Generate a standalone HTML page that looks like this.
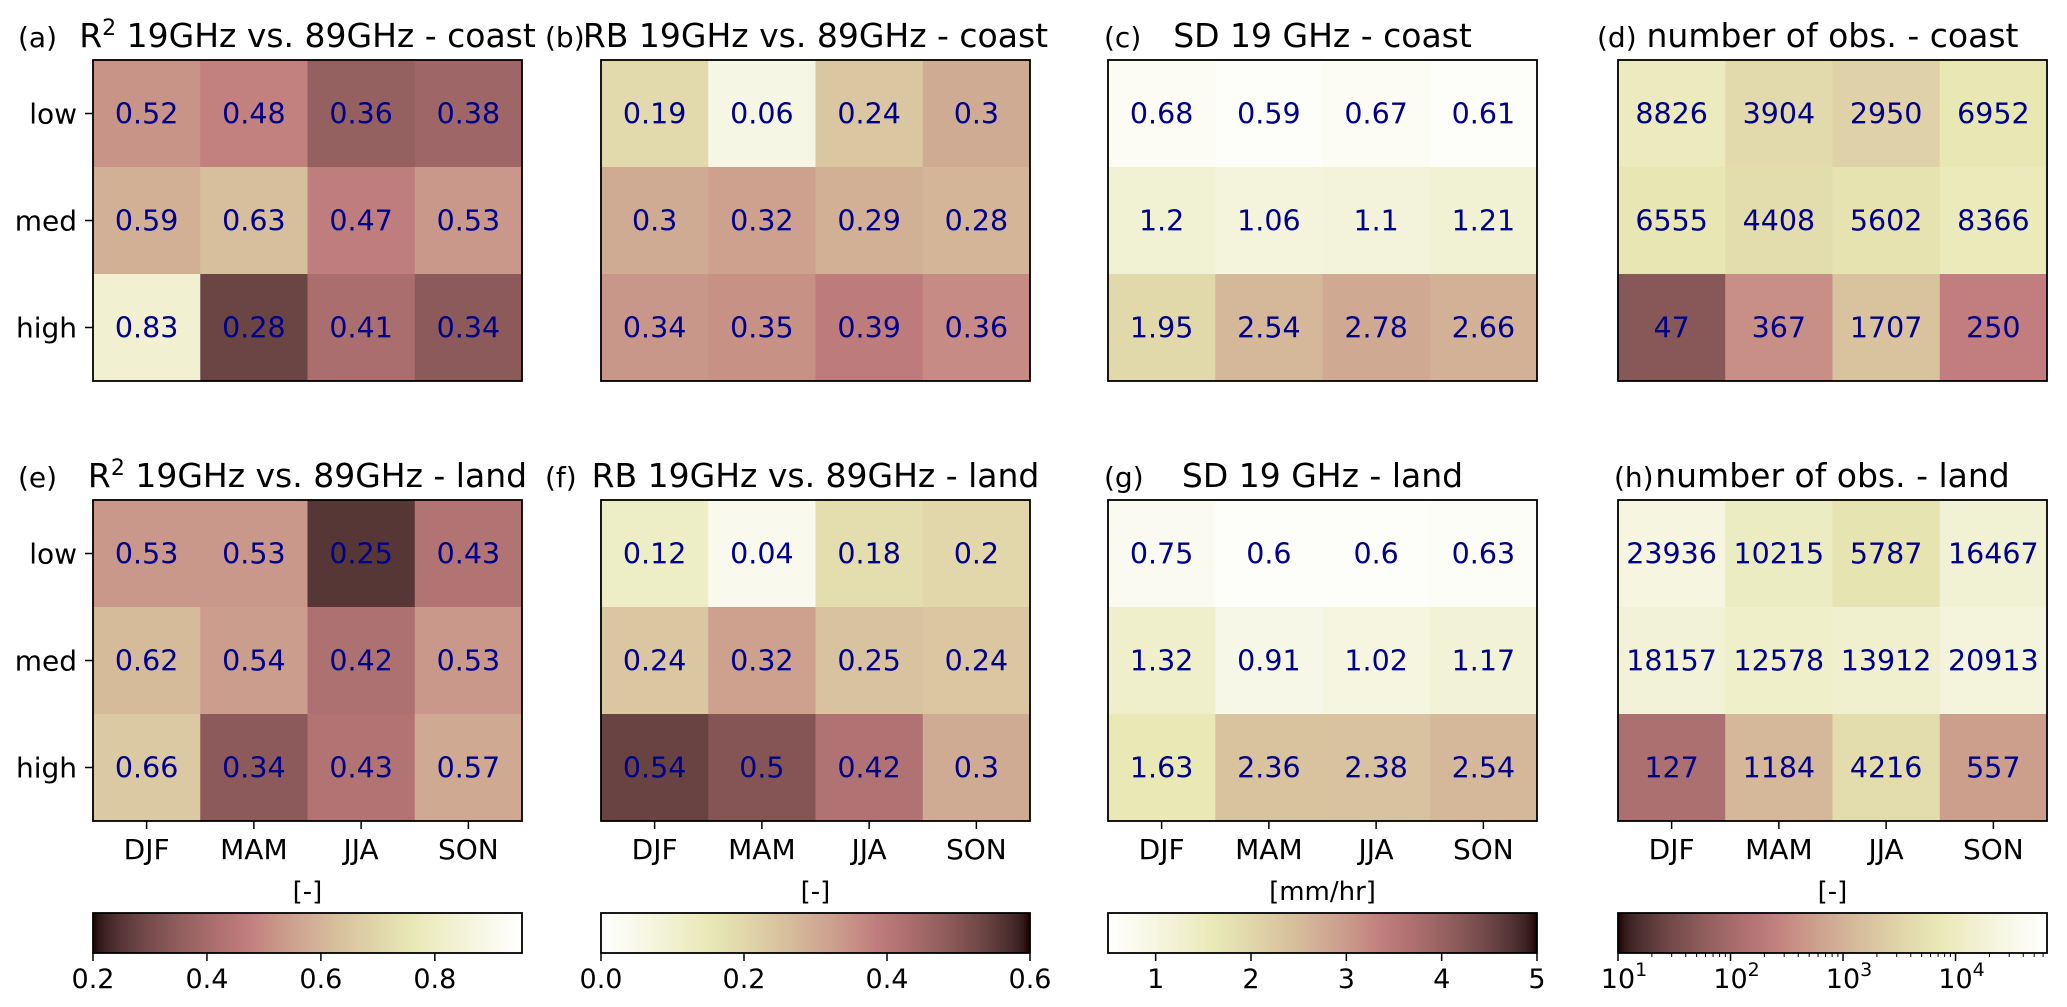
<!DOCTYPE html>
<html><head><meta charset="utf-8">
<style>
html,body{margin:0;padding:0;background:#fff;}
svg{display:block;font-family:"DejaVu Sans","Liberation Sans",sans-serif;}
</style></head>
<body>
<svg id="fig" width="2067" height="1007" viewBox="0 0 2067 1007" xmlns="http://www.w3.org/2000/svg"></svg>
<script>
// ---- data ----
const seasons = ["DJF","MAM","JJA","SON"];
const levels = ["low","med","high"];
const r2Coast = [[0.52,0.48,0.36,0.38],[0.59,0.63,0.47,0.53],[0.83,0.28,0.41,0.34]];
const rbCoast = [[0.19,0.06,0.24,0.3],[0.3,0.32,0.29,0.28],[0.34,0.35,0.39,0.36]];
const sdCoast = [[0.68,0.59,0.67,0.61],[1.2,1.06,1.1,1.21],[1.95,2.54,2.78,2.66]];
const nCoast = [[8826,3904,2950,6952],[6555,4408,5602,8366],[47,367,1707,250]];
const r2Land = [[0.53,0.53,0.25,0.43],[0.62,0.54,0.42,0.53],[0.66,0.34,0.43,0.57]];
const rbLand = [[0.12,0.04,0.18,0.2],[0.24,0.32,0.25,0.24],[0.54,0.5,0.42,0.3]];
const sdLand = [[0.75,0.6,0.6,0.63],[1.32,0.91,1.02,1.17],[1.63,2.36,2.38,2.54]];
const nLand = [[23936,10215,5787,16467],[18157,12578,13912,20913],[127,1184,4216,557]];
const r2Ticks = [0.2,0.4,0.6,0.8];
const rbTicks = [0.0,0.2,0.4,0.6];
const sdTicks = [1,2,3,4,5];
const nTicks = [1,2,3,4]; // log10 exponents
const r2Range = [0.2,0.953];
const rbRange = [0,0.6];
const sdRange = [0.5,5];
const nRange = [10,65000];

const NS="http://www.w3.org/2000/svg";
const svg=document.getElementById('fig');
function mk(tag,attrs,parent){const e=document.createElementNS(NS,tag);for(const k in attrs)e.setAttribute(k,attrs[k]);(parent||svg).appendChild(e);return e;}

function pink(t){
  t=Math.max(0,Math.min(1,t));
  const i=1+t*63;
  const cl=v=>Math.max(0,Math.min(1,v));
  const g=(i-1)/63;
  const hr=cl(i/24),hg=cl((i-24)/24),hb=cl((i-48)/16);
  const f=h=>Math.round(255*Math.sqrt((2*g+h)/3));
  return `rgb(${f(hr)},${f(hg)},${f(hb)})`;
}

const colX=[93,601,1108,1618];
const W=429;
const rowY=[60,500];
const H=321;
const cbY=913, cbH=40;

const columns=[
 {top:r2Coast,bot:r2Land,norm:v=>(v-r2Range[0])/(r2Range[1]-r2Range[0]),rev:false,fmt:v=>String(v),
  tTop:"R² 19GHz vs. 89GHz - coast",tBot:"R² 19GHz vs. 89GHz - land",lt:["(a)","(e)"],lx:[18,18],unit:"[-]",name:"r2"},
 {top:rbCoast,bot:rbLand,norm:v=>(v-rbRange[0])/(rbRange[1]-rbRange[0]),rev:true,fmt:v=>String(v),
  tTop:"RB 19GHz vs. 89GHz - coast",tBot:"RB 19GHz vs. 89GHz - land",lt:["(b)","(f)"],lx:[545,545],unit:"[-]",name:"rb"},
 {top:sdCoast,bot:sdLand,norm:v=>(v-sdRange[0])/(sdRange[1]-sdRange[0]),rev:true,fmt:v=>String(v),
  tTop:"SD 19 GHz - coast",tBot:"SD 19 GHz - land",lt:["(c)","(g)"],lx:[1104,1104],unit:"[mm/hr]",name:"sd"},
 {top:nCoast,bot:nLand,norm:v=>(Math.log10(v)-Math.log10(nRange[0]))/(Math.log10(nRange[1])-Math.log10(nRange[0])),rev:false,fmt:v=>String(v),
  tTop:"number of obs. - coast",tBot:"number of obs. - land",lt:["(d)","(h)"],lx:[1597,1614],unit:"[-]",name:"nobs"}
];

const defs=mk('defs',{});
columns.forEach((c,ci)=>{
  const x0=colX[ci];
  [c.top,c.bot].forEach((data,ri)=>{
    const y0=rowY[ri];
    const g=mk('g',{});
    
    
    const cw=W/seasons.length, ch=H/levels.length;
    data.forEach((row,r)=>row.forEach((v,k)=>{
      let t=c.norm(v); if(c.rev)t=1-t;
      const cell=mk('rect',{x:x0+k*cw,y:y0+r*ch,width:cw+0.5,height:ch+0.5,fill:pink(t)},g);
      
      
      const tx=mk('text',{x:x0+k*cw+cw/2,y:y0+r*ch+ch/2+10,'font-size':28.5,fill:'#00008b','text-anchor':'middle'},g);
      tx.textContent=c.fmt(v);
      
      
    }));
    const fr=mk('rect',{x:x0,y:y0,width:W,height:H,fill:'none',stroke:'#000','stroke-width':1.8},g);
    
    
    // title
    const title=(ri===0?c.tTop:c.tBot);
    const tt=mk('text',{x:x0+W/2,y:y0-13,'font-size':33,'text-anchor':'middle',fill:'#000'});
    if(title.startsWith('R²')){
      tt.appendChild(document.createTextNode('R'));
      const s=mk('tspan',{'font-size':22,dy:-12},tt); s.textContent='2';
      const r2=mk('tspan',{dy:12},tt); r2.textContent=title.slice(2);
    } else tt.textContent=title;
    
    
    const lb=mk('text',{x:c.lx[ri],y:y0-13,'font-size':28,fill:'#000'});
    lb.textContent=c.lt[ri];
    
    
    // y ticks
    if(ci===0){
      levels.forEach((l,r)=>{
        const yy=y0+r*ch+ch/2;
        mk('line',{x1:x0-8,x2:x0,y1:yy,y2:yy,stroke:'#000','stroke-width':1.5});
        const yl=mk('text',{x:x0-16,y:yy+10,'font-size':28,'text-anchor':'end'});
        yl.textContent=l;
        
        
      });
    }
    if(ri===1){
      seasons.forEach((s,k)=>{
        const xx=x0+k*cw+cw/2;
        mk('line',{x1:xx,x2:xx,y1:y0+H,y2:y0+H+8,stroke:'#000','stroke-width':1.5});
        const xl=mk('text',{x:xx,y:y0+H+38,'font-size':28,'text-anchor':'middle'});
        xl.textContent=s;
        
        
      });
    }
  });
  // colorbar
  const gid='grad'+ci;
  const lg=mk('linearGradient',{id:gid,x1:0,x2:1,y1:0,y2:0},defs);
  for(let s=0;s<=64;s++){const t=s/64;mk('stop',{offset:t,'stop-color':pink(c.rev?1-t:t)},lg);}
  const cb=mk('rect',{x:x0,y:cbY,width:W,height:cbH,fill:`url(#${gid})`,stroke:'#000','stroke-width':1.8});
  
  
  const ul=mk('text',{x:x0+W/2,y:900,'font-size':26,'text-anchor':'middle'});
  ul.textContent=c.unit;
  
  
});

function cbTicks(ci,ticks,range,fmt){
  const x0=colX[ci];
  ticks.forEach(v=>{
    const xx=x0+(v-range[0])/(range[1]-range[0])*W;
    mk('line',{x1:xx,x2:xx,y1:cbY+cbH,y2:cbY+cbH+8,stroke:'#000','stroke-width':1.5});
    const t=mk('text',{x:xx,y:988,'font-size':27,'text-anchor':'middle'});
    t.textContent=fmt(v);
    
    
  });
}
cbTicks(0,r2Ticks,r2Range,v=>v.toFixed(1));
cbTicks(1,rbTicks,rbRange,v=>v.toFixed(1));
cbTicks(2,sdTicks,sdRange,v=>String(v));
// log colorbar
(function(){
  const x0=colX[3];
  const lo=Math.log10(nRange[0]),hi=Math.log10(nRange[1]);
  const px=v=>x0+(Math.log10(v)-lo)/(hi-lo)*W;
  for(let e=1;e<=4;e++){for(let m=2;m<=9;m++){const v=m*Math.pow(10,e);if(v>nRange[1])break;const xx=px(v);
    mk('line',{x1:xx,x2:xx,y1:cbY+cbH,y2:cbY+cbH+4,stroke:'#000','stroke-width':1});}}
  nTicks.forEach(e=>{
    const xx=px(Math.pow(10,e));
    mk('line',{x1:xx,x2:xx,y1:cbY+cbH,y2:cbY+cbH+8,stroke:'#000','stroke-width':1.5});
    const t=mk('text',{x:xx+6,y:988,'font-size':27,'text-anchor':'middle'});
    t.appendChild(document.createTextNode('10'));
    const s=mk('tspan',{'font-size':19,dy:-12},t); s.textContent=String(e);
    
    
  });
})();
</script>
</body></html>
